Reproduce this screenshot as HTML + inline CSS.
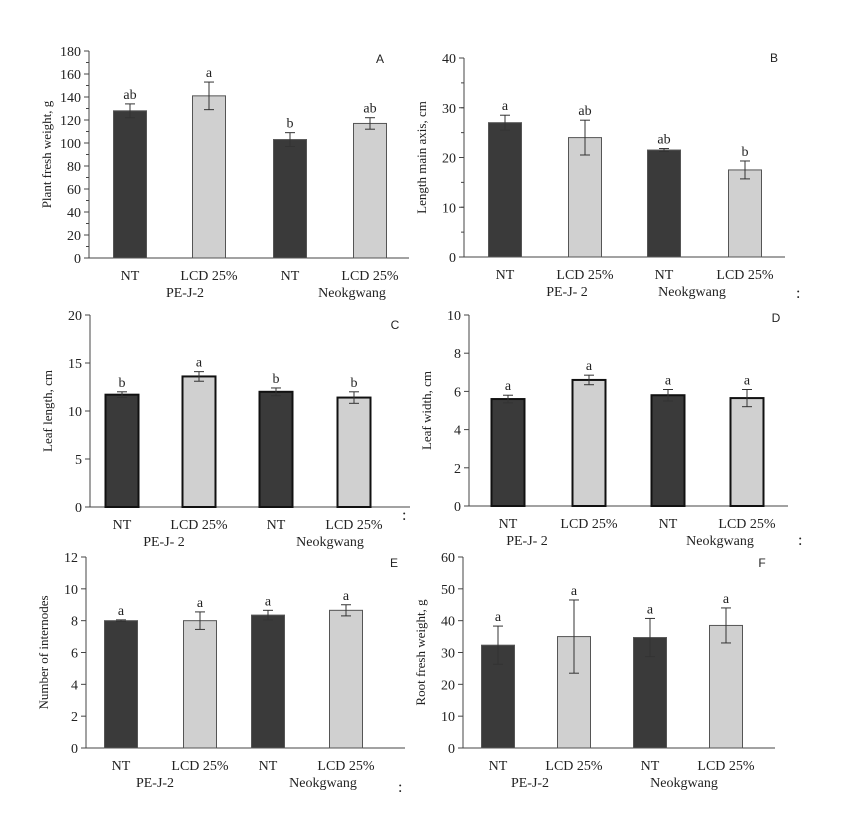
<!DOCTYPE html>
<html><head><meta charset="utf-8"><style>
body{margin:0;background:#fff}
svg{display:block;font-family:"Liberation Serif",serif}
</style></head><body>
<svg id="s" width="855" height="830" viewBox="0 0 855 830"></svg>
<script>
const categories=["NT","LCD 25%","NT","LCD 25%"];
const groups=["PE-J-2","Neokgwang"];
const valsA=[128,141,103,117], errA=[6,12,6,5], letA=["ab","a","b","ab"];
const valsB=[27,24,21.5,17.5], errB=[1.5,3.5,0.3,1.8], letB=["a","ab","ab","b"];
const valsC=[11.7,13.6,12,11.4], errC=[0.3,0.5,0.4,0.6], letC=["b","a","b","b"];
const valsD=[5.6,6.6,5.8,5.65], errD=[0.2,0.25,0.3,0.45], letD=["a","a","a","a"];
const valsE=[8.0,8.0,8.35,8.65], errE=[0.05,0.55,0.3,0.35], letE=["a","a","a","a"];
const valsF=[32.3,35,34.7,38.5], errF=[6,11.5,6,5.5], letF=["a","a","a","a"];
const ticksA=[0,20,40,60,80,100,120,140,160,180];
const ticksB=[0,10,20,30,40];
const ticksC=[0,5,10,15,20];
const ticksD=[0,2,4,6,8,10];
const ticksE=[0,2,4,6,8,10,12];
const ticksF=[0,10,20,30,40,50,60];

const S=document.getElementById('s');
const NS="http://www.w3.org/2000/svg";
function mk(tag,attrs,parent,txt){const e=document.createElementNS(NS,tag);for(const k in attrs)e.setAttribute(k,attrs[k]);if(txt!==undefined)e.textContent=txt;(parent||S).appendChild(e);return e;}

function panel(o){
  const g=mk('g',{});
  
  
  const max=o.ticks[o.ticks.length-1];
  const y=v=>o.y0-(v/max)*(o.y0-o.yt);
  mk('line',{x1:o.ax,y1:o.yt,x2:o.ax,y2:o.y0,stroke:'#444','stroke-width':1},g);
  mk('line',{x1:o.ax,y1:o.y0,x2:o.xe,y2:o.y0,stroke:'#444','stroke-width':1},g);
  if(o.minor){for(let v=0;v<=max;v+=o.minor){mk('line',{x1:o.ax-3,y1:y(v),x2:o.ax,y2:y(v),stroke:'#444'},g);}}
  o.ticks.forEach(t=>{
    mk('line',{x1:o.ax-5,y1:y(t),x2:o.ax,y2:y(t),stroke:'#444'},g);
    const tl=mk('text',{x:o.ax-8,y:y(t)+5,'text-anchor':'end','font-size':14,fill:'#222'},g,t);
    
    
  });
  const yt=mk('text',{transform:`translate(${o.ax-38},${(o.yt+o.y0)/2}) rotate(-90)`,'text-anchor':'middle','font-size':13,fill:'#222'},g,o.title);
  
  
  const bw=o.bw||33;
  o.vals.forEach((v,i)=>{
    const cx=o.cx[i];
    const b=mk('rect',{x:cx-bw/2,y:y(v),width:bw,height:o.y0-y(v),fill:i%2?'#d0d0d0':'#3a3a3a',stroke:o.thick?'#111':'#555','stroke-width':o.thick?2:1},g);
    
    
    const e=o.err[i];
    mk('line',{x1:cx,y1:y(v+e),x2:cx,y2:y(v-e),stroke:'#333'},g);
    mk('line',{x1:cx-5,y1:y(v+e),x2:cx+5,y2:y(v+e),stroke:'#333'},g);
    mk('line',{x1:cx-5,y1:y(v-e),x2:cx+5,y2:y(v-e),stroke:'#333'},g);
    const l=mk('text',{x:cx,y:y(v+e)-5,'text-anchor':'middle','font-size':14,fill:'#222'},g,o.let[i]);
    
    
    const c=mk('text',{x:cx,y:o.y0+22,'text-anchor':'middle','font-size':14,fill:'#222'},g,categories[i]);
    
    
  });
  groups.forEach((gr,j)=>{
    const t=mk('text',{x:o.gx[j],y:o.y0+39,'text-anchor':'middle','font-size':14,fill:'#222'},g,j==0?o.g1:gr);
    
    
  });
  const pl=mk('text',{x:o.lx,y:o.ly,'text-anchor':'middle','font-size':12,'font-family':'Liberation Sans, sans-serif',fill:'#222'},g,o.id);
  
  
}
panel({id:'A',vals:valsA,err:errA,let:letA,ticks:ticksA,minor:10,ax:89,yt:51,y0:258,xe:409,cx:[130,209,290,370],gx:[185,352],g1:'PE-J-2',title:'Plant fresh weight, g',lx:380,ly:63});
panel({id:'B',vals:valsB,err:errB,let:letB,ticks:ticksB,minor:5,ax:464,yt:58,y0:257,xe:785,cx:[505,585,664,745],gx:[567,692],g1:'PE-J- 2',title:'Length main axis, cm',lx:774,ly:62});
panel({id:'C',vals:valsC,err:errC,let:letC,ticks:ticksC,ax:90,yt:315,y0:507,xe:410,cx:[122,199,276,354],gx:[164,330],g1:'PE-J- 2',title:'Leaf length, cm',thick:true,lx:395,ly:329});
panel({id:'D',vals:valsD,err:errD,let:letD,ticks:ticksD,ax:469,yt:315,y0:506,xe:788,cx:[508,589,668,747],gx:[527,720],g1:'PE-J- 2',title:'Leaf width, cm',thick:true,lx:776,ly:322});
panel({id:'E',vals:valsE,err:errE,let:letE,ticks:ticksE,ax:86,yt:557,y0:748,xe:405,cx:[121,200,268,346],gx:[155,323],g1:'PE-J-2',title:'Number of internodes',lx:394,ly:567});
panel({id:'F',vals:valsF,err:errF,let:letF,ticks:ticksF,ax:463,yt:557,y0:748,xe:775,cx:[498,574,650,726],gx:[530,684],g1:'PE-J-2',title:'Root fresh weight, g',lx:762,ly:567});
[[796,298],[798,545],[402,520],[398,792]].forEach(p=>{mk('text',{x:p[0],y:p[1],'font-size':16,fill:'#222'},S,':');});
</script>
</body></html>
